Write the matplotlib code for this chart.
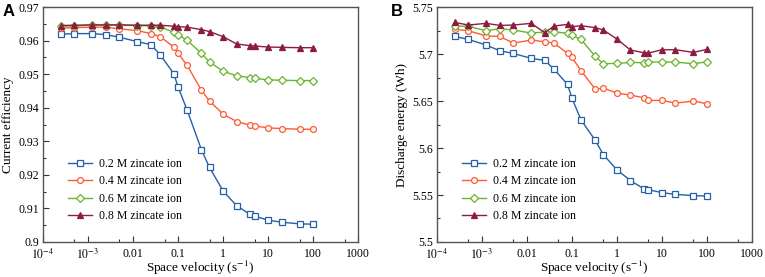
import matplotlib
matplotlib.use("Agg")
import matplotlib.pyplot as plt
from matplotlib.ticker import FixedLocator, FixedFormatter, MultipleLocator

plt.rcParams['font.family'] = ['Liberation Serif', 'DejaVu Serif']
plt.rcParams['mathtext.fontset'] = 'stix'

space_velocity = [0.00025, 0.0005, 0.00125, 0.0025, 0.005, 0.0125, 0.025, 0.04, 0.08, 0.1,
                  0.16, 0.33, 0.5, 1, 2, 4, 5, 10, 20, 50, 100]
series_labels = ['0.2 M zincate ion', '0.4 M zincate ion', '0.6 M zincate ion', '0.8 M zincate ion']

eff_02 = [0.9619, 0.9621, 0.9621, 0.9618, 0.9610, 0.9597, 0.9588, 0.9558, 0.9502, 0.9462,
          0.9392, 0.9275, 0.9222, 0.9152, 0.9108, 0.9082, 0.9077, 0.9065, 0.9059, 0.9054, 0.9053]
eff_04 = [0.9637, 0.9639, 0.9640, 0.9640, 0.9635, 0.9630, 0.9621, 0.9612, 0.9581, 0.9562,
          0.9526, 0.9452, 0.9420, 0.9381, 0.9359, 0.9348, 0.9346, 0.9340, 0.9338, 0.9336, 0.9336]
eff_06 = [0.9643, 0.9644, 0.9646, 0.9646, 0.9646, 0.9645, 0.9644, 0.9641, 0.9625, 0.9617,
          0.9601, 0.9562, 0.9536, 0.9509, 0.9495, 0.9490, 0.9488, 0.9483, 0.9482, 0.9481, 0.9481]
eff_08 = [0.9645, 0.9646, 0.9647, 0.9647, 0.9647, 0.9646, 0.9646, 0.9646, 0.9643, 0.9642,
          0.9640, 0.9633, 0.9627, 0.9612, 0.9590, 0.9585, 0.9584, 0.9581, 0.9580, 0.9579, 0.9579]

en_02 = [5.7188, 5.7156, 5.7096, 5.7035, 5.7007, 5.6954, 5.6933, 5.6840, 5.6677, 5.6532,
         5.6298, 5.6082, 5.5929, 5.5768, 5.5654, 5.5564, 5.5557, 5.5525, 5.5507, 5.5493, 5.5489]
en_04 = [5.7263, 5.7249, 5.7192, 5.7188, 5.7117, 5.7149, 5.7131, 5.7117, 5.7007, 5.6965,
         5.6823, 5.6627, 5.6638, 5.6585, 5.6563, 5.6535, 5.6507, 5.6507, 5.6478, 5.6500, 5.6471]
en_06 = [5.7298, 5.7295, 5.7249, 5.7270, 5.7256, 5.7224, 5.7234, 5.7238, 5.7220, 5.7199,
         5.7156, 5.6975, 5.6897, 5.6901, 5.6911, 5.6908, 5.6915, 5.6915, 5.6915, 5.6897, 5.6918]
en_08 = [5.7337, 5.7309, 5.7327, 5.7305, 5.7309, 5.7327, 5.7227, 5.7298, 5.7316, 5.7291,
         5.7302, 5.7281, 5.7256, 5.7160, 5.7043, 5.7014, 5.7011, 5.7046, 5.7046, 5.7018, 5.7050]

x_ticks = [1e-4, 1e-3, 0.01, 0.1, 1, 10, 100, 1000]
x_ticklabels = [r'$10^{-4}$', r'$10^{-3}$', '0.01', '0.1', '1', '10', '100', '1000']
x_minor = [5e-4, 5e-3, 0.05, 0.5, 5, 50, 500]
eff_ticks = [0.90, 0.91, 0.92, 0.93, 0.94, 0.95, 0.96, 0.97]
eff_ticklabels = ['0.9', '0.91', '0.92', '0.93', '0.94', '0.95', '0.96', '0.97']
en_ticks = [5.5, 5.55, 5.6, 5.65, 5.7, 5.75]
en_ticklabels = ['5.5', '5.55', '5.6', '5.65', '5.7', '5.75']

colors = ['#2560a8', '#ff5a33', '#6bb42e', '#8c1c40']
markers = ['s', 'o', 'D', '^']
msizes = [4.2, 4.2, 3.6, 4.2]

fig = plt.figure(figsize=(7.65, 2.77), dpi=100)
axA = fig.add_axes([0.0562, 0.1264, 0.412, 0.848])
axB = fig.add_axes([0.571, 0.1264, 0.412, 0.848])

def style(ax, yticks, yticklabels, ylim, yminor, ylabel):
    ax.set_xscale('log')
    ax.set_xlim(1e-4, 1000)
    ax.set_ylim(*ylim)
    ax.xaxis.set_major_locator(FixedLocator(x_ticks))
    ax.xaxis.set_major_formatter(FixedFormatter(x_ticklabels))
    ax.xaxis.set_minor_locator(FixedLocator(x_minor))
    ax.xaxis.set_minor_formatter(FixedFormatter([''] * len(x_minor)))
    ax.yaxis.set_major_locator(FixedLocator(yticks))
    ax.yaxis.set_major_formatter(FixedFormatter(yticklabels))
    ax.yaxis.set_minor_locator(MultipleLocator(yminor))
    ax.tick_params(which='both', direction='in', top=False, right=False, labelsize=8.5,
                   color='#333333', width=0.8)
    ax.tick_params(axis='y', which='major', length=4, pad=3)
    ax.tick_params(axis='x', which='major', length=4, pad=4)
    ax.tick_params(which='minor', length=2.5)
    for s in ax.spines.values():
        s.set_color('#555555')
        s.set_linewidth(1.0)
    ax.set_xlabel(r'Space velocity (s$^{-1}$)', fontsize=9.5, labelpad=-2)
    ax.set_ylabel(ylabel, fontsize=9.5, labelpad=3)

for ys, c, m, ms, lab in zip([eff_02, eff_04, eff_06, eff_08], colors, markers, msizes, series_labels):
    fill = c if m == '^' else 'white'
    axA.plot(space_velocity, ys, color=c, marker=m, ms=ms, mfc=fill, mec=c, mew=0.9, lw=1.0, label=lab)
for ys, c, m, ms, lab in zip([en_02, en_04, en_06, en_08], colors, markers, msizes, series_labels):
    fill = c if m == '^' else 'white'
    axB.plot(space_velocity, ys, color=c, marker=m, ms=ms, mfc=fill, mec=c, mew=0.9, lw=1.0, label=lab)

style(axA, eff_ticks, eff_ticklabels, (0.90, 0.97), 0.005, 'Current efficiency')
style(axB, en_ticks, en_ticklabels, (5.5, 5.75), 0.025, 'Discharge energy (Wh)')

for ax in (axA, axB):
    ax.legend(loc='lower left', bbox_to_anchor=(0.065, 0.065), frameon=False, fontsize=8.5,
              handlelength=2.0, handletextpad=0.6, labelspacing=0.45, borderaxespad=0)

fig.text(0.004, 0.985, 'A', fontsize=12, fontweight='bold', family='Liberation Sans', va='top')
fig.text(0.511, 0.985, 'B', fontsize=12, fontweight='bold', family='Liberation Sans', va='top')

fig.savefig('out.png', dpi=100)
